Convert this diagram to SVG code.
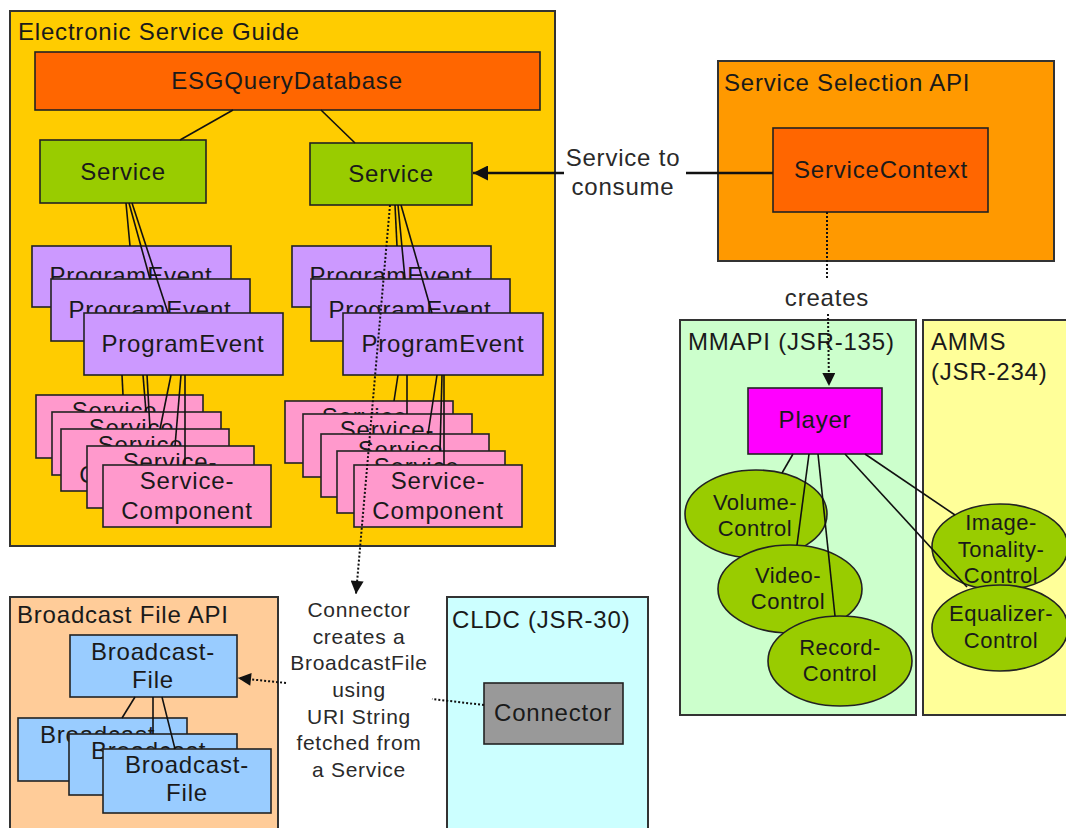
<svg xmlns="http://www.w3.org/2000/svg" width="1066" height="828" viewBox="0 0 1066 828">
  <defs>
    <style>
      text { font-family: "Liberation Sans", Arial, sans-serif; font-size: 24px; letter-spacing: 0.8px; fill: #1a1a1a; }
      .m { text-anchor: middle; }
      .sm { font-size: 21px; letter-spacing: 0.7px; fill: #2a2a2a; }
      .el { font-size: 22px; letter-spacing: 0.5px; }
      .lb { fill: #2a2a2a; }
      .box { stroke: #333; stroke-width: 2; }
      .nd { stroke: #222; stroke-width: 1.6; }
      .ln { stroke: #111; stroke-width: 1.6; fill: none; }
      .dot { stroke: #111; stroke-width: 2; stroke-dasharray: 2 2; fill: none; }
      .bold { stroke: #111; stroke-width: 2.6; fill: none; }
    </style>
    <marker id="ah" viewBox="0 0 10 10" refX="10" refY="5" markerWidth="16" markerHeight="13" markerUnits="userSpaceOnUse" orient="auto">
      <path d="M0,0 L10,5 L0,10 z" fill="#111"/>
    </marker>
    <marker id="ahb" viewBox="0 0 10 10" refX="10" refY="5" markerWidth="21" markerHeight="15" markerUnits="userSpaceOnUse" orient="auto">
      <path d="M0,0 L10,5 L0,10 z" fill="#111"/>
    </marker>
  </defs>

  <rect width="1066" height="828" fill="#fff"/>

  <!-- Containers -->
  <g id="esg">
    <rect class="box" x="10" y="11" width="545" height="535" fill="#FFCC00"/>
    <text x="18" y="40">Electronic Service Guide</text>
  </g>
  <g id="service-selection-api">
    <rect class="box" x="718" y="61" width="336" height="200" fill="#FF9900"/>
    <text x="724" y="91">Service Selection API</text>
  </g>
  <g id="mmapi">
    <rect class="box" x="680" y="320" width="236" height="395" fill="#CCFFCC" stroke="#555"/>
    <text x="688" y="350">MMAPI (JSR-135)</text>
  </g>
  <g id="amms">
    <rect class="box" x="923" y="320" width="150" height="395" fill="#FFFF99" stroke="#555"/>
    <text x="931" y="350">AMMS</text>
    <text x="931" y="380">(JSR-234)</text>
  </g>
  <g id="broadcast-file-api">
    <rect class="box" x="10" y="597" width="268" height="240" fill="#FFCC99"/>
    <text x="17" y="623">Broadcast File API</text>
  </g>
  <g id="cldc">
    <rect class="box" x="447" y="597" width="201" height="240" fill="#CCFFFF"/>
    <text x="452" y="628">CLDC (JSR-30)</text>
  </g>

  <!-- ESG nodes -->
  <g id="esg-query-database">
    <rect class="nd" x="35" y="52" width="505" height="58" fill="#FF6600"/>
    <text class="m" x="287" y="89">ESGQueryDatabase</text>
  </g>
  <g id="service-a">
    <rect class="nd" x="40" y="140" width="166" height="63" fill="#99CC00"/>
    <text class="m" x="123" y="180">Service</text>
  </g>
  <g id="service-b">
    <rect class="nd" x="310" y="143" width="162" height="62" fill="#99CC00"/>
    <text class="m" x="391" y="182">Service</text>
  </g>

  <g id="program-event-a1">
    <rect class="nd" x="32" y="246" width="199" height="61" fill="#CC99FF"/>
    <text class="m" x="131" y="284">ProgramEvent</text>
  </g>
  <g id="program-event-a2">
    <rect class="nd" x="51" y="279" width="199" height="62" fill="#CC99FF"/>
    <text class="m" x="150" y="318">ProgramEvent</text>
  </g>
  <g id="program-event-a3">
    <rect class="nd" x="84" y="313" width="199" height="62" fill="#CC99FF"/>
    <text class="m" x="183" y="352">ProgramEvent</text>
  </g>
  <g id="program-event-b1">
    <rect class="nd" x="292" y="246" width="199" height="61" fill="#CC99FF"/>
    <text class="m" x="391" y="284">ProgramEvent</text>
  </g>
  <g id="program-event-b2">
    <rect class="nd" x="311" y="279" width="199" height="62" fill="#CC99FF"/>
    <text class="m" x="410" y="318">ProgramEvent</text>
  </g>
  <g id="program-event-b3">
    <rect class="nd" x="343" y="313" width="200" height="62" fill="#CC99FF"/>
    <text class="m" x="443" y="352">ProgramEvent</text>
  </g>

  <g id="service-component-a1">
    <rect class="nd" x="36" y="395" width="167" height="63" fill="#FF99CC"/>
    <text class="m" x="119" y="419">Service-</text>
    <text class="m" x="119" y="449">Component</text>
  </g>
  <g id="service-component-a2">
    <rect class="nd" x="52" y="412" width="169" height="63" fill="#FF99CC"/>
    <text class="m" x="136" y="436">Service-</text>
    <text class="m" x="136" y="466">Component</text>
  </g>
  <g id="service-component-a3">
    <rect class="nd" x="61" y="429" width="168" height="62" fill="#FF99CC"/>
    <text class="m" x="145" y="453">Service-</text>
    <text class="m" x="145" y="483">Component</text>
  </g>
  <g id="service-component-a4">
    <rect class="nd" x="87" y="446" width="167" height="62" fill="#FF99CC"/>
    <text class="m" x="170" y="470">Service-</text>
    <text class="m" x="170" y="500">Component</text>
  </g>
  <g id="service-component-a5">
    <rect class="nd" x="103" y="465" width="168" height="62" fill="#FF99CC"/>
    <text class="m" x="187" y="489">Service-</text>
    <text class="m" x="187" y="519">Component</text>
  </g>
  <g id="service-component-b1">
    <rect class="nd" x="285" y="401" width="168" height="62" fill="#FF99CC"/>
    <text class="m" x="369" y="425">Service-</text>
    <text class="m" x="369" y="455">Component</text>
  </g>
  <g id="service-component-b2">
    <rect class="nd" x="303" y="414" width="169" height="63" fill="#FF99CC"/>
    <text class="m" x="387" y="438">Service-</text>
    <text class="m" x="387" y="468">Component</text>
  </g>
  <g id="service-component-b3">
    <rect class="nd" x="321" y="434" width="168" height="63" fill="#FF99CC"/>
    <text class="m" x="405" y="458">Service-</text>
    <text class="m" x="405" y="488">Component</text>
  </g>
  <g id="service-component-b4">
    <rect class="nd" x="337" y="451" width="168" height="62" fill="#FF99CC"/>
    <text class="m" x="421" y="475">Service-</text>
    <text class="m" x="421" y="505">Component</text>
  </g>
  <g id="service-component-b5">
    <rect class="nd" x="354" y="465" width="168" height="62" fill="#FF99CC"/>
    <text class="m" x="438" y="489">Service-</text>
    <text class="m" x="438" y="519">Component</text>
  </g>

  <!-- Service selection -->
  <g id="service-context">
    <rect class="nd" x="773" y="128" width="215" height="84" fill="#FF6600"/>
    <text class="m" x="881" y="178">ServiceContext</text>
  </g>

  <!-- Media -->
  <g id="player">
    <rect class="nd" x="748" y="388" width="134" height="66" fill="#FF00FF"/>
    <text class="m" x="815" y="428">Player</text>
  </g>
  <g id="volume-control">
    <ellipse class="nd" cx="756" cy="514" rx="71" ry="44" fill="#99CC00"/>
    <text class="m el" x="755" y="510">Volume-</text>
    <text class="m el" x="755" y="536">Control</text>
  </g>
  <g id="video-control">
    <ellipse class="nd" cx="790" cy="589" rx="72" ry="44" fill="#99CC00"/>
    <text class="m el" x="788" y="583">Video-</text>
    <text class="m el" x="788" y="609">Control</text>
  </g>
  <g id="record-control">
    <ellipse class="nd" cx="840" cy="661" rx="72" ry="45" fill="#99CC00"/>
    <text class="m el" x="840" y="655">Record-</text>
    <text class="m el" x="840" y="681">Control</text>
  </g>
  <g id="image-tonality-control">
    <ellipse class="nd" cx="1000" cy="547" rx="68" ry="43" fill="#99CC00"/>
    <text class="m el" x="1001" y="530">Image-</text>
    <text class="m el" x="1001" y="557">Tonality-</text>
    <text class="m el" x="1001" y="583">Control</text>
  </g>
  <g id="equalizer-control">
    <ellipse class="nd" cx="1000" cy="628" rx="68" ry="43" fill="#99CC00"/>
    <text class="m el" x="1001" y="621">Equalizer-</text>
    <text class="m el" x="1001" y="648">Control</text>
  </g>

  <!-- Broadcast files -->
  <g id="broadcast-file-main">
    <rect class="nd" x="70" y="635" width="167" height="62" fill="#99CCFF"/>
    <text class="m" x="153" y="660">Broadcast-</text>
    <text class="m" x="153" y="688">File</text>
  </g>
  <g id="broadcast-file-1">
    <rect class="nd" x="18" y="718" width="169" height="63" fill="#99CCFF"/>
    <text class="m" x="102" y="743">Broadcast-</text>
    <text class="m" x="102" y="771">File</text>
  </g>
  <g id="broadcast-file-2">
    <rect class="nd" x="69" y="734" width="168" height="61" fill="#99CCFF"/>
    <text class="m" x="153" y="759">Broadcast-</text>
    <text class="m" x="153" y="787">File</text>
  </g>
  <g id="broadcast-file-3">
    <rect class="nd" x="103" y="749" width="168" height="64" fill="#99CCFF"/>
    <text class="m" x="187" y="773">Broadcast-</text>
    <text class="m" x="187" y="801">File</text>
  </g>

  <g id="connector">
    <rect class="nd" x="484" y="683" width="139" height="61" fill="#999999"/>
    <text class="m" x="553" y="721">Connector</text>
  </g>

  <!-- Connectors -->
  <g id="connectors">
    <!-- database to services -->
    <line class="ln" x1="233" y1="110" x2="180" y2="140"/>
    <line class="ln" x1="321" y1="110" x2="355" y2="143"/>
    <!-- services to program events -->
    <line class="ln" x1="126" y1="203" x2="130" y2="246"/>
    <line class="ln" x1="129" y1="203" x2="150" y2="279"/>
    <line class="ln" x1="132" y1="203" x2="168" y2="313"/>
    <line class="ln" x1="395" y1="205" x2="397" y2="246"/>
    <line class="ln" x1="398" y1="205" x2="405" y2="279"/>
    <line class="ln" x1="401" y1="205" x2="432" y2="313"/>
    <!-- program events to service components -->
    <line class="ln" x1="122" y1="375" x2="123" y2="395"/>
    <line class="ln" x1="143" y1="375" x2="146" y2="412"/>
    <line class="ln" x1="147" y1="375" x2="150" y2="429"/>
    <line class="ln" x1="171" y1="375" x2="160" y2="429"/>
    <line class="ln" x1="181" y1="375" x2="175" y2="446"/>
    <line class="ln" x1="185" y1="375" x2="185" y2="465"/>
    <line class="ln" x1="398" y1="375" x2="394" y2="401"/>
    <line class="ln" x1="407" y1="375" x2="407" y2="414"/>
    <line class="ln" x1="437" y1="375" x2="428" y2="434"/>
    <line class="ln" x1="442" y1="375" x2="440" y2="451"/>
    <line class="ln" x1="444" y1="375" x2="444" y2="465"/>
    <!-- service to consume -->
    <line class="bold" x1="773" y1="173" x2="686" y2="173"/>
    <line class="bold" x1="564" y1="173" x2="473" y2="173" marker-end="url(#ahb)"/>
    <text class="m lb" x="623" y="166">Service to</text>
    <text class="m lb" x="623" y="195">consume</text>
    <!-- context creates player -->
    <line class="dot" x1="827" y1="212" x2="827" y2="280"/>
    <line class="dot" x1="828" y1="314" x2="829" y2="386" marker-end="url(#ah)"/>
    <text class="m lb" x="827" y="306">creates</text>
    <!-- player to controls -->
    <line class="ln" x1="793" y1="454" x2="782" y2="473"/>
    <line class="ln" x1="809" y1="454" x2="797" y2="545"/>
    <line class="ln" x1="818" y1="454" x2="835" y2="616"/>
    <line class="ln" x1="845" y1="454" x2="967" y2="587"/>
    <line class="ln" x1="865" y1="454" x2="955" y2="515"/>
    <!-- URI string from service -->
    <line class="dot" x1="390" y1="205" x2="356" y2="594" marker-end="url(#ah)"/>
    <!-- connector creates broadcast file -->
    <line class="dot" x1="484" y1="705" x2="432" y2="699"/>
    <line class="dot" x1="286" y1="683" x2="238" y2="678" marker-end="url(#ah)"/>
    <text class="m sm" x="359" y="617">Connector</text>
    <text class="m sm" x="359" y="644">creates a</text>
    <text class="m sm" x="359" y="670">BroadcastFile</text>
    <text class="m sm" x="359" y="697">using</text>
    <text class="m sm" x="359" y="724">URI String</text>
    <text class="m sm" x="359" y="750">fetched from</text>
    <text class="m sm" x="359" y="777">a Service</text>
    <!-- broadcast file to its children -->
    <line class="ln" x1="135" y1="697" x2="122" y2="718"/>
    <line class="ln" x1="153" y1="697" x2="153" y2="734"/>
    <line class="ln" x1="162" y1="697" x2="175" y2="749"/>
  </g>
</svg>
